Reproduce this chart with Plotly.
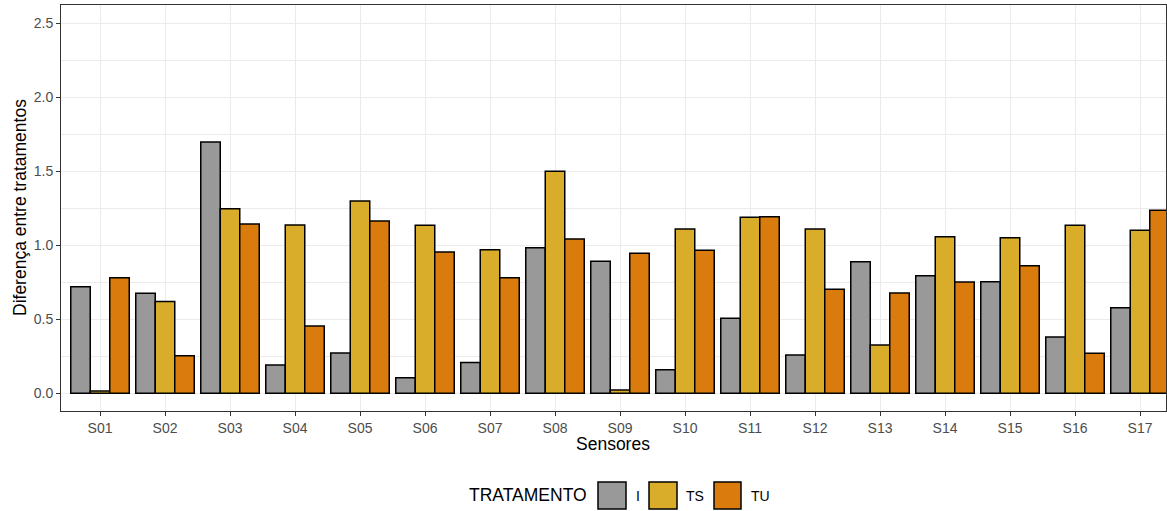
import plotly.graph_objects as go

sensores = ["S01", "S02", "S03", "S04", "S05", "S06", "S07", "S08", "S09",
            "S10", "S11", "S12", "S13", "S14", "S15", "S16", "S17"]
val_I = [0.72, 0.676, 1.698, 0.191, 0.272, 0.105, 0.209, 0.984, 0.892,
         0.16, 0.507, 0.259, 0.889, 0.795, 0.754, 0.38, 0.578]
val_TS = [0.015, 0.62, 1.247, 1.137, 1.299, 1.135, 0.97, 1.5, 0.022,
          1.11, 1.189, 1.11, 0.326, 1.058, 1.051, 1.135, 1.101]
val_TU = [0.78, 0.254, 1.144, 0.455, 1.164, 0.955, 0.781, 1.043, 0.946,
          0.966, 1.193, 0.703, 0.678, 0.752, 0.862, 0.27, 1.236]
tratamentos = ["I", "TS", "TU"]
cores = ["#999999", "#D9AD29", "#D97C0D"]
series = [val_I, val_TS, val_TU]

W, H = 1167, 511
L, R, T, B = 61, 1166, 5, 411
FONT = "Liberation Sans, Arial, Helvetica, sans-serif"

fig = go.Figure()
for nome, vals, cor in zip(tratamentos, series, cores):
    fig.add_trace(go.Bar(x=sensores, y=vals, name=nome,
                         marker=dict(color=cor, line=dict(color="black", width=1.5)),
                         showlegend=False))

def px(x):
    return (x - L) / (R - L)

def py(y):
    return (B - y) / (B - T)

shapes = []
annotations = []
# custom legend
annotations.append(dict(text="TRATAMENTO", x=px(589), y=py(495), xref="paper", yref="paper",
                        xanchor="right", yanchor="middle", showarrow=False,
                        font=dict(size=17.5, color="black", family=FONT)))
keys = [(598, 626, 634), (649, 677, 684), (714, 741, 749)]
for (x0, x1, lx), nome, cor in zip(keys, tratamentos, cores):
    shapes.append(dict(type="rect", xref="paper", yref="paper",
                       x0=px(x0), x1=px(x1), y0=py(509), y1=py(482),
                       fillcolor=cor, line=dict(color="black", width=1.5)))
    annotations.append(dict(text=nome, x=px(lx), y=py(496), xref="paper", yref="paper",
                            xanchor="left", yanchor="middle", showarrow=False,
                            font=dict(size=14, color="black", family=FONT)))
# axis titles
annotations.append(dict(text="Sensores", x=px(613), y=py(444), xref="paper", yref="paper",
                        xanchor="center", yanchor="middle", showarrow=False,
                        font=dict(size=17.5, color="black", family=FONT)))
annotations.append(dict(text="Diferença entre tratamentos", x=px(20), y=py(208),
                        xref="paper", yref="paper", textangle=-90,
                        xanchor="center", yanchor="middle", showarrow=False,
                        font=dict(size=17.5, color="black", family=FONT)))

fig.update_layout(
    width=W, height=H,
    margin=dict(l=L, r=W - R, t=T, b=H - B),
    paper_bgcolor="white", plot_bgcolor="white",
    barmode="group", bargap=0.1, bargroupgap=0,
    font=dict(family=FONT, size=14, color="#4D4D4D"),
    shapes=shapes, annotations=annotations,
    xaxis=dict(range=[-0.6, 16.4], showgrid=True, gridcolor="#EBEBEB", gridwidth=1.1,
               ticks="outside", ticklen=4, tickcolor="#333333", tickwidth=1,
               showline=True, linecolor="#333333", linewidth=1, mirror=True,
               tickfont=dict(size=14, color="#4D4D4D"), zeroline=False),
    yaxis=dict(range=[-0.1195, 2.6235], dtick=0.5, tick0=0, tickformat=".1f",
               showgrid=True, gridcolor="#EBEBEB", gridwidth=1.1,
               minor=dict(dtick=0.25, tick0=0, showgrid=True, gridcolor="#EBEBEB", gridwidth=0.55),
               ticks="outside", ticklen=4, tickcolor="#333333", tickwidth=1,
               showline=True, linecolor="#333333", linewidth=1, mirror=True,
               tickfont=dict(size=14, color="#4D4D4D"), zeroline=False),
)

fig.write_html("out.html", config={"displayModeBar": False},
               post_script="document.body.style.margin='0';document.body.style.overflow='hidden';")
